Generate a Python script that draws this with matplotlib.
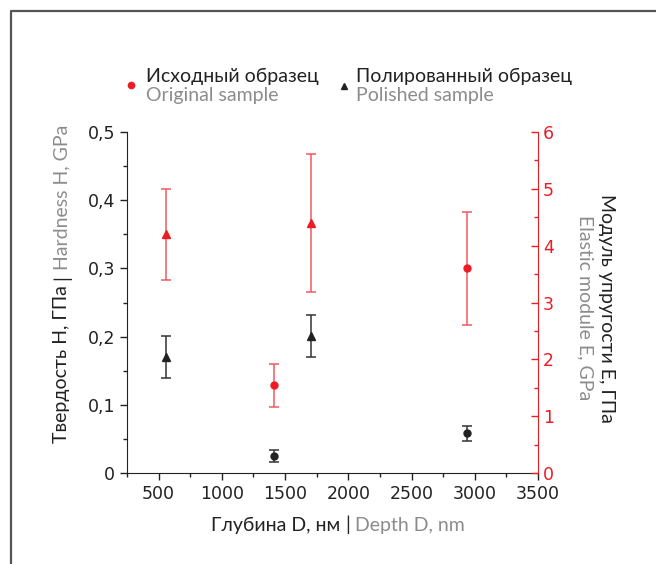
import numpy as np
import matplotlib
matplotlib.use("Agg")
import matplotlib.pyplot as plt
from matplotlib.lines import Line2D
from matplotlib.ticker import FuncFormatter, MultipleLocator

# depth in nm
depth_orig = [1410, 2936]
depth_pol = [560, 1704]

# hardness H, GPa (left axis, black)
hard_orig = [0.025, 0.058]
hard_orig_err = [0.0085, 0.011]
hard_pol = [0.17, 0.201]
hard_pol_err = [0.031, 0.031]

# elastic modulus E, GPa (right axis, red)
mod_orig = [1.54, 3.6]
mod_orig_err = [0.38, 1.0]
mod_pol = [4.2, 4.4]
mod_pol_err = [0.8, 1.21]

RED = "#ec1c24"
GRAY = "#8c8c8c"
DARK = "#222222"
W, H = 656, 564
LBL_FONT = "Lato"
LBL_SIZE = 14

fig = plt.figure(figsize=(W / 100, H / 100), dpi=100)
ax = fig.add_axes([127 / W, 1 - 473 / H, (538 - 127) / W, (473 - 132) / H])
ax2 = ax.twinx()

ax.errorbar(depth_orig, hard_orig, yerr=hard_orig_err, fmt="o", color=DARK, ms=5,
            ecolor="#333333", elinewidth=1.1, capsize=3.5, capthick=1.1)
ax.errorbar(depth_pol, hard_pol, yerr=hard_pol_err, fmt="^", color=DARK, ms=6,
            ecolor="#333333", elinewidth=1.1, capsize=3.5, capthick=1.1)
ax2.errorbar(depth_orig, mod_orig, yerr=mod_orig_err, fmt="o", color=RED, ms=5,
             ecolor="#ef5a5f", elinewidth=1.1, capsize=3.5, capthick=1.1)
ax2.errorbar(depth_pol, mod_pol, yerr=mod_pol_err, fmt="^", color=RED, ms=6,
             ecolor="#ef5a5f", elinewidth=1.1, capsize=3.5, capthick=1.1)

ax.set_xlim(250, 3500)
ax.set_ylim(0, 0.5)
ax2.set_ylim(0, 6)

ax.xaxis.set_major_locator(MultipleLocator(500))
ax.xaxis.set_minor_locator(MultipleLocator(250))
ax.yaxis.set_major_locator(MultipleLocator(0.1))
ax.yaxis.set_minor_locator(MultipleLocator(0.05))
ax2.yaxis.set_major_locator(MultipleLocator(1))
ax2.yaxis.set_minor_locator(MultipleLocator(0.5))

comma = FuncFormatter(lambda v, p: "0" if abs(v) < 1e-9 else f"{v:g}".replace(".", ","))
ax.yaxis.set_major_formatter(comma)
ax.xaxis.set_major_formatter(FuncFormatter(lambda v, p: f"{v:.0f}"))

for a in (ax, ax2):
    a.spines["top"].set_visible(False)
    a.set_facecolor("none")
ax.spines["right"].set_visible(False)
ax2.spines["left"].set_visible(False)
ax2.spines["bottom"].set_visible(False)
ax.spines["left"].set_color(DARK)
ax.spines["bottom"].set_color(DARK)
ax2.spines["right"].set_color(RED)

ax.tick_params(axis="both", which="major", direction="out", length=5, width=1,
               color=DARK, labelcolor=DARK, labelsize=12.5)
ax.tick_params(axis="both", which="minor", direction="out", length=3, width=1, color=DARK)
ax2.tick_params(axis="y", which="major", direction="in", length=5, width=1,
                color=RED, labelcolor=RED, labelsize=12.5)
ax2.tick_params(axis="y", which="minor", direction="in", length=3, width=1, color=RED)

# frame lines (top and left only)
fig.add_artist(Line2D([11 / W, 11 / W, 1], [0, 1 - 11 / H, 1 - 11 / H],
                      transform=fig.transFigure, color="#555555", lw=1.6))


def px(x, y):
    return x / W, 1 - y / H


def chain(parts, x0, y0, rotation=0, size=LBL_SIZE, gap=5):
    # parts laid out one after another, starting at pixel (x0, y0)
    r = fig.canvas.get_renderer()
    pos = 0
    for s, c in parts:
        if rotation == 0:
            xy = px(x0 + pos, y0)
        else:
            xy = px(x0, y0 - pos)
        t = fig.text(*xy, s, color=c, fontsize=size, family=LBL_FONT,
                     rotation=rotation, rotation_mode="anchor", ha="left", va="center")
        bb = t.get_window_extent(r)
        pos += (bb.width if rotation == 0 else bb.height) + gap


chain([("Глубина D, нм", DARK), ("|", DARK), ("Depth D, nm", GRAY)], 211, 525)
chain([("Твердость H, ГПа", DARK), ("|", DARK), ("Hardness H, GPa", GRAY)], 62, 443, rotation=90)

fig.text(*px(607, 308), "Модуль упругости E, ГПа", color=DARK, fontsize=LBL_SIZE, family=LBL_FONT,
         rotation=-90, rotation_mode="anchor", ha="center", va="center")
fig.text(*px(585, 308), "Elastic module E, GPa", color=GRAY, fontsize=LBL_SIZE, family=LBL_FONT,
         rotation=-90, rotation_mode="anchor", ha="center", va="center")

# legend
fig.add_artist(Line2D([131 / W], [1 - 85 / H], marker="o", ms=4.5, color=RED, transform=fig.transFigure))
fig.add_artist(Line2D([344 / W], [1 - 86 / H], marker="^", ms=5, color=DARK, transform=fig.transFigure))
fig.text(*px(146, 76), "Исходный образец", color=DARK, fontsize=LBL_SIZE, family=LBL_FONT, va="center")
fig.text(*px(146, 96), "Original sample", color=GRAY, fontsize=LBL_SIZE, family=LBL_FONT, va="center")
fig.text(*px(356, 76), "Полированный образец", color=DARK, fontsize=LBL_SIZE, family=LBL_FONT, va="center")
fig.text(*px(356, 96), "Polished sample", color=GRAY, fontsize=LBL_SIZE, family=LBL_FONT, va="center")

fig.savefig("out.png", dpi=100)
